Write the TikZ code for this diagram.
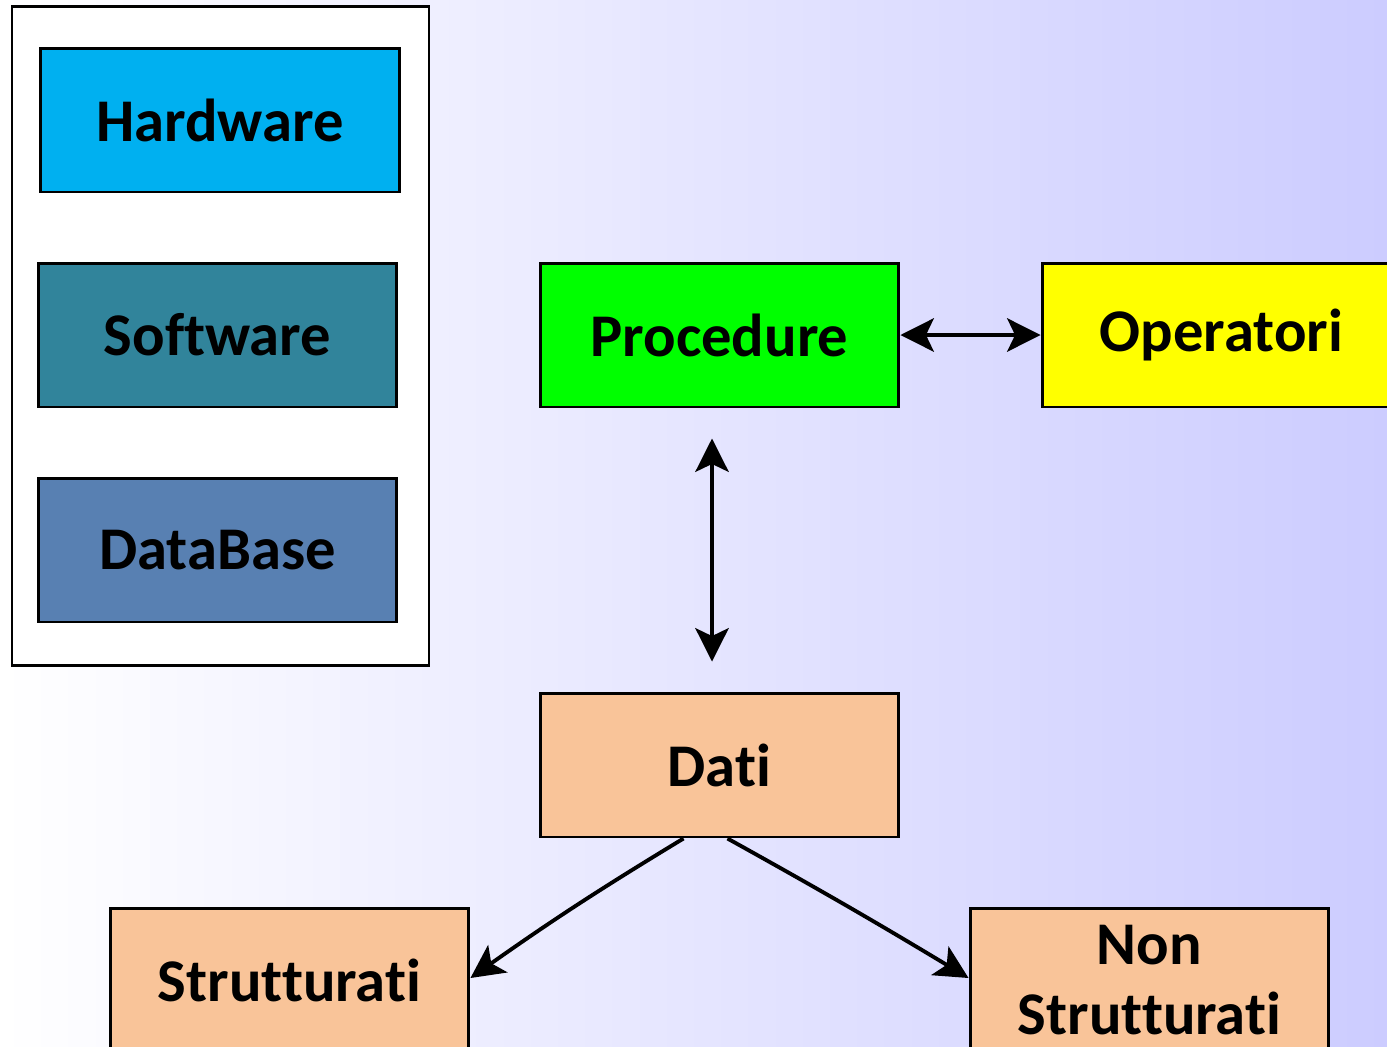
\documentclass[tikz,border=0pt]{standalone}
\usepackage{fontspec}
\setmainfont[Ligatures={NoCommon,NoRare,NoContextual}]{Carlito}
\usetikzlibrary{arrows.meta,calc}

\definecolor{hwblue}{RGB}{0,176,240}
\definecolor{swteal}{RGB}{49,132,155}
\definecolor{dbblue}{RGB}{88,128,178}
\definecolor{procgreen}{RGB}{0,255,0}
\definecolor{opyellow}{RGB}{255,255,0}
\definecolor{datapeach}{RGB}{249,196,153}
\definecolor{bglilac}{RGB}{204,204,255}

\begin{document}
\begin{tikzpicture}[
  x=0.02cm, y=-0.02cm,
  box/.style={
      draw=black,
      line width=1.7pt,
      minimum width=7.18cm,
      minimum height=2.88cm,
      align=center,
      font=\fontsize{34.5}{40}\selectfont\bfseries
    },
  link arrow/.style={
      arrows = {Stealth[length=19pt,width=19pt,inset=4.5pt]-Stealth[length=19pt,width=19pt,inset=4.5pt]},
      line width=2.2pt
    },
  one way/.style={
      arrows = {-Stealth[length=19pt,width=19pt,inset=4.5pt]},
      line width=2.2pt
    },
  panel/.style={
      draw=black,
      fill=white,
      line width=1.7pt
    }]

  \clip (0,0) rectangle (1387,1046);
  \shade [left color=white, right color=bglilac] (0,0) rectangle (1387,1046);

  % left panel
  \draw [panel] (12,6) rectangle (429,665);
  \node [box, fill=hwblue] (hardware) at (220,120) {Hardware};
  \node [box, fill=swteal] (software) at (217.5,335) {Software};
  \node [box, fill=dbblue] (database) at (217.5,550) {DataBase};

  % right part
  \node [box, fill=procgreen] (procedure) at (719.5,335) {Procedure};
  \node [box, fill=opyellow] (operatori) at (1221.5,335) {Operatori};
  \node [box, fill=datapeach] (dati) at (719.5,765) {Dati};
  \node [box, fill=datapeach] (strutturati) at (289.5,980) {Strutturati};
  \node [box, fill=datapeach] (non_strutturati) at (1149.5,980) {Non\\Strutturati};

  \coordinate (proc_low) at ($(procedure.south) + (-7.5,30)$);
  \coordinate (dati_high) at ($(dati.north) + (-7.5,-30)$);
  \coordinate (dati_left) at ($(dati.south) + (-36,0)$);
  \coordinate (dati_right) at ($(dati.south) + (8,0)$);

  \draw [link arrow] (procedure) -- (operatori);
  \draw [link arrow] (proc_low) -- (dati_high);
  \draw [one way] [bend right=2] (dati_left) to ($(strutturati.east) + (0,-2)$);
  \draw [one way] [bend left=1] (dati_right) to ($(non_strutturati.west) + (0,-2)$);
\end{tikzpicture}
\end{document}
